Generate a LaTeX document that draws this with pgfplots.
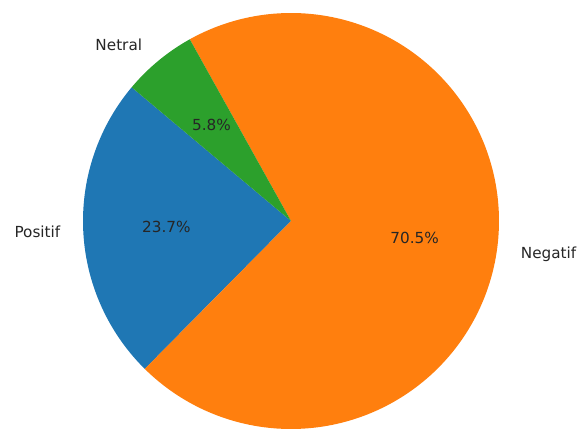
\documentclass[border=0pt]{standalone}
\usepackage{pgfplots}
\pgfplotsset{compat=1.18}
\usepackage{fontspec}
\setmainfont{DejaVu Sans}
\definecolor{c0}{HTML}{1F77B4}
\definecolor{c1}{HTML}{FF7F0E}
\definecolor{c2}{HTML}{2CA02C}
\definecolor{txt}{HTML}{262626}
\begin{document}
\begin{tikzpicture}
% data (percent): Positif, Negatif, Netral
\def\vA{23.7}
\def\vB{70.5}
\def\vC{5.8}
\def\start{140}
\def\cx{291}
\def\cy{211}
\def\R{208}
\pgfmathsetmacro\aA{\start}
\pgfmathsetmacro\aB{\aA+3.6*\vA}
\pgfmathsetmacro\aC{\aB+3.6*\vB}
\pgfmathsetmacro\aD{\aC+3.6*\vC}
\tikzset{lbl/.style={inner sep=0pt, text=txt, font=\fontsize{15.3}{18}\selectfont}}
\begin{axis}[hide axis, scale only axis, width=577bp, height=432bp,
  xmin=0, xmax=577, ymin=0, ymax=432, clip=false]
\addplot[draw=none, forget plot] coordinates {(0,0) (577,432)};
\addplot[fill=c0, draw=none, domain=\aA:\aB, samples=80, variable=\t]
  ({\cx+\R*cos(t)}, {\cy+\R*sin(t)}) -- (axis cs:\cx,\cy) -- cycle;
\addplot[fill=c1, draw=none, domain=\aB:\aC, samples=200, variable=\t]
  ({\cx+\R*cos(t)}, {\cy+\R*sin(t)}) -- (axis cs:\cx,\cy) -- cycle;
\addplot[fill=c2, draw=none, domain=\aC:\aD, samples=30, variable=\t]
  ({\cx+\R*cos(t)}, {\cy+\R*sin(t)}) -- (axis cs:\cx,\cy) -- cycle;
% labels at 1.1 R, percentages at 0.6 R
\pgfmathsetmacro\mA{(\aA+\aB)/2}
\pgfmathsetmacro\mB{(\aB+\aC)/2}
\pgfmathsetmacro\mC{(\aC+\aD)/2}
\node[lbl, anchor=east] at (axis cs:{\cx+1.1*\R*cos(\mA)-2},{\cy+1.1*\R*sin(\mA)}) {Positif};
\node[lbl, anchor=west] at (axis cs:{\cx+1.1*\R*cos(\mB)+3},{\cy+1.1*\R*sin(\mB)-2}) {Negatif};
\node[lbl, anchor=east] at (axis cs:{\cx+1.1*\R*cos(\mC)-3},{\cy+1.1*\R*sin(\mC)}) {Netral};
\node[lbl] at (axis cs:{\cx+0.6*\R*cos(\mA)},{\cy+0.6*\R*sin(\mA)}) {23.7\%};
\node[lbl] at (axis cs:{\cx+0.6*\R*cos(\mB)},{\cy+0.6*\R*sin(\mB)}) {70.5\%};
\node[lbl] at (axis cs:{\cx+0.6*\R*cos(\mC)},{\cy+0.6*\R*sin(\mC)}) {5.8\%};
\end{axis}
\end{tikzpicture}
\end{document}
